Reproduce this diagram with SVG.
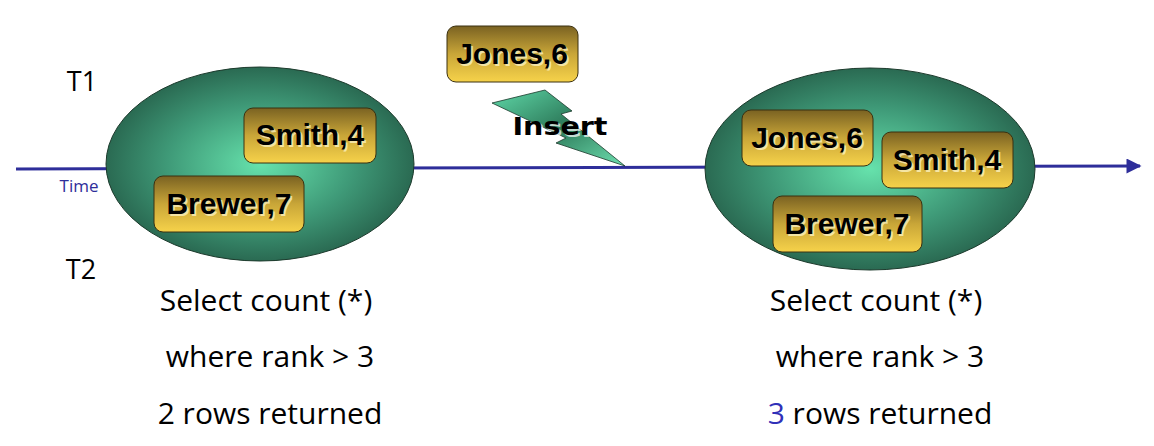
<svg xmlns="http://www.w3.org/2000/svg" width="1154" height="446" viewBox="0 0 1154 446">
<defs>
<radialGradient id="eg" cx="50%" cy="50%" r="50%">
<stop offset="0" stop-color="#66e2ac"/>
<stop offset="0.6" stop-color="#3f9a78"/>
<stop offset="1" stop-color="#2a6a52"/>
</radialGradient>
<linearGradient id="bg" x1="0" y1="0" x2="0" y2="1">
<stop offset="0" stop-color="#7a6222"/>
<stop offset="0.5" stop-color="#c9a638"/>
<stop offset="1" stop-color="#f6d24a"/>
</linearGradient>
<linearGradient id="lg" x1="0" y1="0" x2="1" y2="1">
<stop offset="0" stop-color="#5fd8a8"/>
<stop offset="0.5" stop-color="#2d7a5a"/>
<stop offset="1" stop-color="#6ee0b0"/>
</linearGradient>
<marker id="arr" viewBox="0 0 10 10" refX="9" refY="5" markerWidth="7" markerHeight="5" orient="auto" markerUnits="strokeWidth">
<path d="M0,0 L10,5 L0,10 Z" fill="#2e2e9a"/>
</marker>
</defs>
<style>
.ell{fill:url(#eg);stroke:#1c3a2c;stroke-width:1}
.box{fill:url(#bg);stroke:#3a3010;stroke-width:1}
.bt{font-family:"Liberation Sans",Arial,sans-serif;font-weight:bold;font-size:30px;text-anchor:middle;fill:#000}
.sh{fill:#fff8d0;opacity:0.7}
.lab{font-family:"Open Sans","DejaVu Sans",sans-serif;font-size:27px;fill:#000;text-anchor:middle}
.q{font-family:"Open Sans","DejaVu Sans",sans-serif;font-size:30px;fill:#000;text-anchor:middle}
</style>
<g id="connectors">
<line x1="16" y1="169" x2="1140" y2="166" stroke="#2e2e9a" stroke-width="3" marker-end="url(#arr)"/>
</g>
<g id="labels">
<text class="lab" x="82" y="91">T1</text>
<text class="lab" x="81" y="279">T2</text>
<text x="79" y="192" font-family="'Open Sans','DejaVu Sans',sans-serif" font-size="17" fill="#2e2e9a" text-anchor="middle">Time</text>
</g>
<g id="state1">
<ellipse class="ell" cx="260" cy="164" rx="154" ry="97"/>
<g id="smith1">
<rect class="box" x="244" y="108" width="132" height="55" rx="9"/>
<text class="bt sh" x="312" y="147">Smith,4</text>
<text class="bt" x="310" y="145">Smith,4</text>
</g>
<g id="brewer1">
<rect class="box" x="154" y="176" width="150" height="56" rx="9"/>
<text class="bt sh" x="231" y="216">Brewer,7</text>
<text class="bt" x="229" y="214">Brewer,7</text>
</g>
</g>
<g id="insert">
<polygon points="492,103 545,90 572,111 561,114 625,166 556,143 566,138" fill="url(#lg)" stroke="#1c3a2c" stroke-width="0.8"/>
<g id="jones-new">
<rect class="box" x="447" y="26" width="131" height="56" rx="9"/>
<text class="bt sh" x="514" y="66">Jones,6</text>
<text class="bt" x="512" y="64">Jones,6</text>
</g>
<text x="562" y="137" font-family="'DejaVu Sans',sans-serif" font-weight="bold" font-size="24" text-anchor="middle" fill="#fff" opacity="0.7" textLength="95" lengthAdjust="spacingAndGlyphs">Insert</text>
<text x="560" y="135" font-family="'DejaVu Sans',sans-serif" font-weight="bold" font-size="24" text-anchor="middle" fill="#000" textLength="95" lengthAdjust="spacingAndGlyphs">Insert</text>
</g>
<g id="state2">
<ellipse class="ell" cx="870" cy="169" rx="165" ry="101"/>
<g id="jones2">
<rect class="box" x="742" y="110" width="131" height="56" rx="9"/>
<text class="bt sh" x="809" y="150">Jones,6</text>
<text class="bt" x="807" y="148">Jones,6</text>
</g>
<g id="smith2">
<rect class="box" x="882" y="132" width="131" height="56" rx="9"/>
<text class="bt sh" x="949" y="172">Smith,4</text>
<text class="bt" x="947" y="170">Smith,4</text>
</g>
<g id="brewer2">
<rect class="box" x="773" y="196" width="149" height="56" rx="9"/>
<text class="bt sh" x="849" y="236">Brewer,7</text>
<text class="bt" x="847" y="234">Brewer,7</text>
</g>
</g>
<g id="query1">
<text class="q" x="266" y="311">Select count (*)</text>
<text class="q" x="270" y="367">where rank &gt; 3</text>
<text class="q" x="270" y="424">2 rows returned</text>
</g>
<g id="query2">
<text class="q" x="876" y="311">Select count (*)</text>
<text class="q" x="880" y="367">where rank &gt; 3</text>
<text class="q" x="880" y="424"><tspan fill="#3030b8">3</tspan> rows returned</text>
</g>
</svg>
